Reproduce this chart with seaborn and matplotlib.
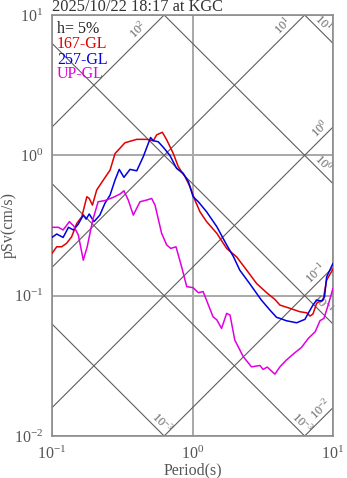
import numpy as np
import pandas as pd
import matplotlib
matplotlib.use("Agg")
import matplotlib.pyplot as plt
import seaborn as sns
from matplotlib.ticker import LogLocator, NullFormatter

# ---- response spectra (h = 5%) ----
T_167 = [0.100, 0.108, 0.117, 0.127, 0.138, 0.150, 0.163, 0.177, 0.184, 0.194,
         0.208, 0.232, 0.259, 0.281, 0.331, 0.401, 0.472, 0.526, 0.556, 0.610,
         0.655, 0.730, 0.792, 0.885, 0.960, 1.04, 1.13, 1.26, 1.49, 1.75,
         2.06, 2.43, 2.86, 3.37, 3.86, 4.19, 4.94, 5.82, 6.50, 6.86,
         7.20, 7.65, 8.08, 8.50, 9.01, 10.0]
Sv_167 = [0.200, 0.223, 0.223, 0.236, 0.263, 0.327, 0.365, 0.507, 0.493, 0.442,
          0.566, 0.667, 0.785, 1.03, 1.23, 1.30, 1.30, 1.27, 1.40, 1.46,
          1.29, 1.03, 0.830, 0.704, 0.597, 0.480, 0.396, 0.337, 0.278, 0.217,
          0.189, 0.152, 0.122, 0.105, 0.094, 0.0857, 0.0812, 0.0768, 0.0755, 0.0716,
          0.074, 0.0882, 0.0915, 0.093, 0.129, 0.155]

T_257 = [0.100, 0.108, 0.120, 0.131, 0.142, 0.154, 0.167, 0.175, 0.184, 0.199,
         0.219, 0.238, 0.259, 0.281, 0.301, 0.325, 0.359, 0.401, 0.446, 0.503,
         0.526, 0.570, 0.620, 0.690, 0.770, 0.858, 0.935, 1.01, 1.10, 1.26,
         1.49, 1.75, 1.96, 2.17, 2.55, 3.09, 3.56, 3.97, 4.19, 4.65,
         5.51, 6.31, 6.67, 7.20, 7.65, 8.33, 8.70, 9.01, 10.0]
Sv_257 = [0.260, 0.275, 0.260, 0.307, 0.294, 0.324, 0.375, 0.351, 0.382, 0.337,
          0.375, 0.455, 0.521, 0.667, 0.794, 0.697, 0.794, 0.776, 0.977, 1.34,
          1.27, 1.25, 1.14, 1.00, 0.808, 0.745, 0.649, 0.507, 0.467, 0.396,
          0.310, 0.230, 0.189, 0.152, 0.122, 0.0931, 0.0789, 0.070, 0.0689, 0.0663,
          0.0641, 0.0678, 0.075, 0.0857, 0.093, 0.0915, 0.098, 0.136, 0.170]

T_UP = [0.100, 0.111, 0.120, 0.133, 0.143, 0.154, 0.167, 0.178, 0.195, 0.213,
        0.238, 0.273, 0.305, 0.325, 0.349, 0.379, 0.423, 0.472, 0.512, 0.541,
        0.603, 0.655, 0.700, 0.763, 0.836, 0.910, 1.01, 1.10, 1.19, 1.40,
        1.49, 1.61, 1.75, 1.85, 2.00, 2.30, 2.63, 3.02, 3.18, 3.40,
        3.86, 4.19, 4.65, 5.35, 5.97, 6.67, 7.47, 8.08, 8.62, 9.24, 10.0]
Sv_UP = [0.307, 0.307, 0.294, 0.337, 0.313, 0.270, 0.179, 0.223, 0.346, 0.467,
         0.476, 0.502, 0.530, 0.559, 0.480, 0.375, 0.467, 0.480, 0.493, 0.442,
         0.278, 0.230, 0.217, 0.223, 0.161, 0.116, 0.114, 0.105, 0.107, 0.0707,
         0.0673, 0.0584, 0.0748, 0.0728, 0.0483, 0.0367, 0.0311, 0.0318, 0.0298, 0.0310,
         0.0276, 0.0311, 0.0347, 0.0392, 0.0428, 0.0496, 0.0553, 0.0663, 0.0689, 0.0857, 0.113]

components = ["167-GL", "257-GL", "UP-GL"]
colors = ["#e00000", "#0000e0", "#e000e0"]

# tripartite reference lines: acceleration (cm/s^2) and displacement (cm)
acc_levels = [100, 10, 1, 0.1, 0.01]
acc_label_T = [0.45, 4.8, 8.85, 8.28, 8.9]
acc_labels = ["$10^{2}$", "$10^{1}$", "$10^{0}$", "$10^{-1}$", "$10^{-2}$"]
disp_levels = [10, 1, 0.1, 0.01, 0.001]
disp_label_T = [7.8, 7.78, 7.8, 5.49, 0.555]
disp_labels = ["$10^{1}$", "$10^{0}$", "$10^{-1}$", "$10^{-3}$", "$10^{-3}$"]

title = "2025/10/22 18:17 at KGC"

sns.set_style("white")
plt.rcParams["font.family"] = ["Liberation Serif", "DejaVu Serif"]
plt.rcParams["mathtext.fontset"] = "custom"
plt.rcParams["mathtext.rm"] = "Liberation Serif"
plt.rcParams["mathtext.it"] = "Liberation Serif:italic"
plt.rcParams["mathtext.bf"] = "Liberation Serif:bold"

fig = plt.figure(figsize=(3.47, 4.78), dpi=100)
ax = fig.add_axes([52 / 347, 1 - 436 / 478, 281 / 347, 421 / 478])
ax.set_xscale("log")
ax.set_yscale("log")
ax.set_xlim(0.1, 10)
ax.set_ylim(0.01, 10)

grid_c = "#a8a8a8"
diag_c = "#5e5e5e"
Tg = np.logspace(-1, 1, 200)
for A in acc_levels:
    ax.plot(Tg, A * Tg / (2 * np.pi), color=diag_c, lw=0.8, zorder=1)
for D in disp_levels:
    ax.plot(Tg, 2 * np.pi * D / Tg, color=diag_c, lw=0.8, zorder=1)

for A, Tl, txt in zip(acc_levels, acc_label_T, acc_labels):
    ax.annotate(txt, (Tl, A * Tl / (2 * np.pi)), xytext=(-4, 4),
                textcoords="offset points", rotation=45, rotation_mode="anchor",
                ha="center", va="center", fontsize=9, color="#666666", zorder=2)
for D, Tl, txt in zip(disp_levels, disp_label_T, disp_labels):
    ax.annotate(txt, (Tl, 2 * np.pi * D / Tl), xytext=(4, 4),
                textcoords="offset points", rotation=-45, rotation_mode="anchor",
                ha="center", va="center", fontsize=9, color="#666666", zorder=2)

frames = []
for name, T, S in zip(components, [T_167, T_257, T_UP], [Sv_167, Sv_257, Sv_UP]):
    frames.append(pd.DataFrame({"T": T, "Sv": S, "comp": name}))
df = pd.concat(frames, ignore_index=True)
sns.lineplot(data=df, x="T", y="Sv", hue="comp", palette=colors, estimator=None,
             sort=False, legend=False, lw=1.1, ax=ax, zorder=3)

ax.grid(True, which="major", color=grid_c, lw=1.4, zorder=0)
ax.set_axisbelow(True)
ax.xaxis.set_major_locator(LogLocator(base=10, numticks=10))
ax.yaxis.set_major_locator(LogLocator(base=10, numticks=10))
ax.xaxis.set_minor_locator(LogLocator(base=10, subs=np.arange(2, 10), numticks=20))
ax.yaxis.set_minor_locator(LogLocator(base=10, subs=np.arange(2, 10), numticks=20))
ax.xaxis.set_minor_formatter(NullFormatter())
ax.yaxis.set_minor_formatter(NullFormatter())
ax.tick_params(which="major", direction="out", length=5, width=1.0, color="#888888",
               labelcolor="#555555", labelsize=11.5, pad=2)
ax.tick_params(axis="y", which="major", pad=1.5)
ax.tick_params(which="minor", direction="in", length=3, width=0.8, color="#888888")
ax.tick_params(which="both", top=False, right=False)
for sp in ax.spines.values():
    sp.set_color("#8c8c8c")
    sp.set_linewidth(1.2)

ax.set_xlabel("Period(s)", fontsize=11.5, color="#555555")
ax.set_ylabel("pSv(cm/s)", fontsize=11.5, color="#555555")
ax.xaxis.set_label_coords(0.5, -0.062)
ax.xaxis.label.set_va("top")
ax.yaxis.set_label_coords(-0.125, 0.5)

# legend block
ax.text(0.018, 1 - (33 - 15) / 421, "h= 5%", transform=ax.transAxes,
        fontsize=11.5, color="#222222", va="baseline", ha="left")
for i, (name, c) in enumerate(zip(components, colors)):
    yb = [48, 63.5, 78][i]
    ax.text(0.018, 1 - (yb - 15) / 421, name, transform=ax.transAxes,
            fontsize=11.5, color=c, va="baseline", ha="left")

fig.text(52 / 347, 1 - 11 / 478, title, fontsize=11.8, color="#333333",
         ha="left", va="baseline")

fig.savefig("out.png", dpi=100)
